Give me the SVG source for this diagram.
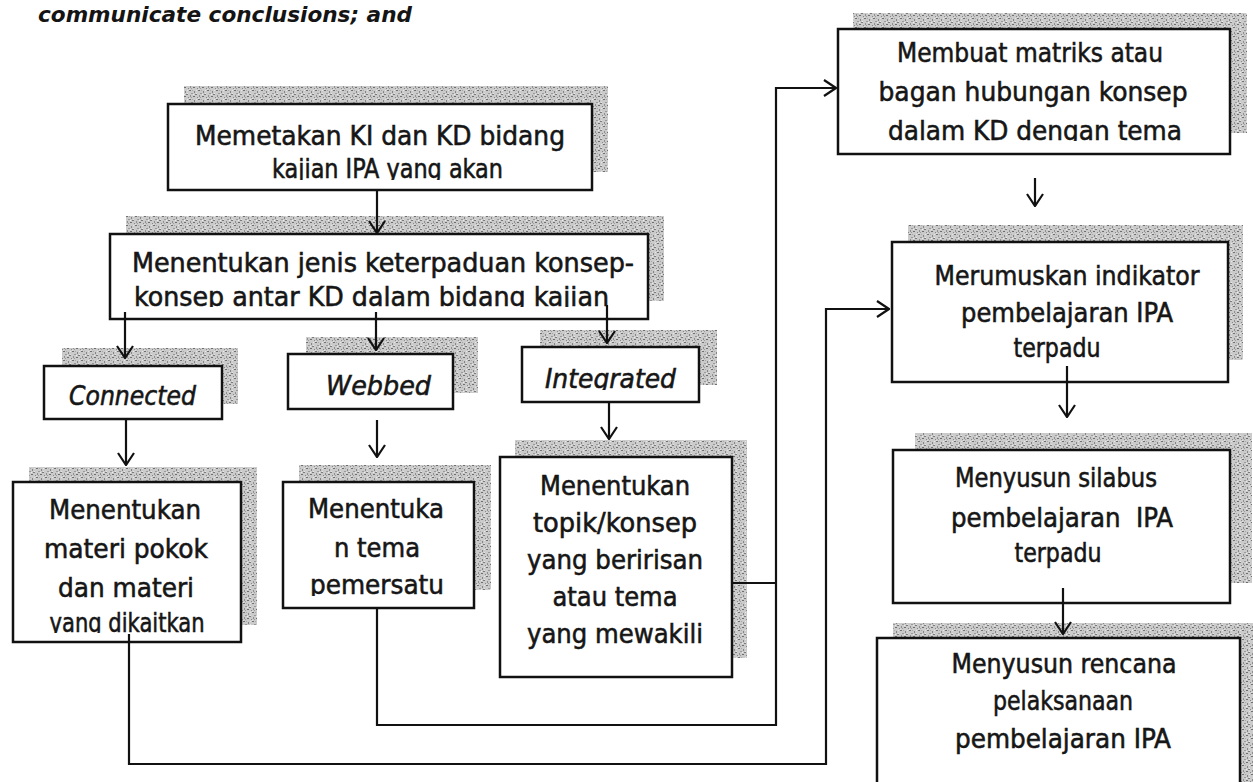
<svg xmlns="http://www.w3.org/2000/svg" width="1253" height="782" viewBox="0 0 1253 782">
<style>
.bx{fill:#fff;stroke:#111;stroke-width:2.5}
.sh{fill:url(#stip)}
.t{font-family:"DejaVu Sans Condensed","DejaVu Sans",sans-serif;font-size:27px;fill:#161616;stroke:#161616;stroke-width:0.55}
.it{font-style:italic}
.ln{fill:none;stroke:#111;stroke-width:2.2}
</style>
<defs>
<pattern id="stip" width="9" height="9" patternUnits="userSpaceOnUse">
<rect width="9" height="9" fill="#cbcbcb"/>
<rect x="0" y="0" width="2" height="1" fill="#707070"/>
<rect x="5" y="1" width="1" height="2" fill="#858585"/>
<rect x="2" y="3" width="2" height="1" fill="#999"/>
<rect x="7" y="3" width="1" height="1" fill="#e6e6e6"/>
<rect x="6" y="4" width="2" height="1" fill="#7a7a7a"/>
<rect x="1" y="5" width="1" height="2" fill="#8f8f8f"/>
<rect x="4" y="6" width="2" height="1" fill="#6e6e6e"/>
<rect x="3" y="0" width="1" height="1" fill="#aaa"/>
<rect x="8" y="7" width="1" height="1" fill="#888"/>
<rect x="0" y="8" width="1" height="1" fill="#e2e2e2"/>
<rect x="4" y="4" width="1" height="1" fill="#ececec"/>
<rect x="7" y="0" width="1" height="1" fill="#e8e8e8"/>
<rect x="2" y="7" width="1" height="1" fill="#9c9c9c"/>
</pattern>
<marker id="ah" viewBox="0 0 14 18" refX="13" refY="9" markerWidth="14" markerHeight="18" markerUnits="userSpaceOnUse" orient="auto">
<path d="M1,1 L13,9 L1,17" fill="none" stroke="#111" stroke-width="2.2"/>
</marker>
<clipPath id="c1"><rect x="168" y="104" width="424" height="76"/></clipPath>
<clipPath id="c2"><rect x="110" y="234" width="538" height="73"/></clipPath>
<clipPath id="c3"><rect x="522" y="347" width="177" height="43"/></clipPath>
<clipPath id="c4"><rect x="13" y="482" width="228" height="151"/></clipPath>
<clipPath id="c5"><rect x="283" y="482" width="191" height="114"/></clipPath>
<clipPath id="c6"><rect x="838" y="29" width="392" height="112"/></clipPath>
</defs>
<rect width="1253" height="782" fill="#fff"/>

<text x="38" y="22" font-family="'DejaVu Sans Condensed','DejaVu Sans',sans-serif" font-size="22" font-weight="bold" font-style="italic" fill="#141414" textLength="374" lengthAdjust="spacingAndGlyphs">communicate conclusions; and</text>

<g id="n1">
<rect class="sh" x="184" y="86" width="424" height="86"/>
<rect class="bx" x="168" y="104" width="424" height="86"/>
<g clip-path="url(#c1)">
<text class="t" x="195" y="145" textLength="370" lengthAdjust="spacingAndGlyphs">Memetakan KI dan KD bidang</text>
<text class="t" x="272" y="178" textLength="231" lengthAdjust="spacingAndGlyphs">kajian IPA yang akan</text>
</g>
</g>

<g id="n2">
<rect class="sh" x="126" y="216" width="538" height="85"/>
<rect class="bx" x="110" y="234" width="538" height="85"/>
<g clip-path="url(#c2)">
<text class="t" x="132" y="272" textLength="502" lengthAdjust="spacingAndGlyphs">Menentukan jenis keterpaduan konsep-</text>
<text class="t" x="134" y="306" textLength="475" lengthAdjust="spacingAndGlyphs">konsep antar KD dalam bidang kajian</text>
</g>
</g>

<g id="n3">
<rect class="sh" x="62" y="348" width="176" height="56"/>
<rect class="bx" x="44" y="366" width="178" height="53"/>
<text class="t it" x="69" y="405" textLength="127" lengthAdjust="spacingAndGlyphs">Connected</text>
</g>

<g id="n4">
<rect class="sh" x="306" y="337" width="172" height="56"/>
<rect class="bx" x="288" y="354" width="165" height="55"/>
<text class="t it" x="326" y="395" textLength="105" lengthAdjust="spacingAndGlyphs">Webbed</text>
</g>

<g id="n5">
<rect class="sh" x="540" y="330" width="177" height="55"/>
<rect class="bx" x="522" y="347" width="177" height="55"/>
<g clip-path="url(#c3)">
<text class="t it" x="545" y="388" textLength="131" lengthAdjust="spacingAndGlyphs">Integrated</text>
</g>
</g>

<g id="n6">
<rect class="sh" x="29" y="467" width="228" height="158"/>
<rect class="bx" x="13" y="482" width="228" height="160"/>
<g clip-path="url(#c4)">
<text class="t" x="125" y="519" text-anchor="middle" textLength="152" lengthAdjust="spacingAndGlyphs">Menentukan</text>
<text class="t" x="126" y="558" text-anchor="middle" textLength="164" lengthAdjust="spacingAndGlyphs">materi pokok</text>
<text class="t" x="126" y="597" text-anchor="middle" textLength="136" lengthAdjust="spacingAndGlyphs">dan materi</text>
<text class="t" x="127" y="632" text-anchor="middle" textLength="155" lengthAdjust="spacingAndGlyphs">yang dikaitkan</text>
</g>
</g>

<g id="n7">
<rect class="sh" x="299" y="465" width="192" height="125"/>
<rect class="bx" x="283" y="482" width="191" height="126"/>
<g clip-path="url(#c5)">
<text class="t" x="376" y="518" text-anchor="middle" textLength="136" lengthAdjust="spacingAndGlyphs">Menentuka</text>
<text class="t" x="377" y="557" text-anchor="middle" textLength="86" lengthAdjust="spacingAndGlyphs">n tema</text>
<text class="t" x="377" y="594" text-anchor="middle" textLength="134" lengthAdjust="spacingAndGlyphs">pemersatu</text>
</g>
</g>

<g id="n8">
<rect class="sh" x="515" y="440" width="232" height="218"/>
<rect class="bx" x="500" y="457" width="232" height="220"/>
<text class="t" x="615" y="495" text-anchor="middle" textLength="150" lengthAdjust="spacingAndGlyphs">Menentukan</text>
<text class="t" x="615" y="532" text-anchor="middle" textLength="164" lengthAdjust="spacingAndGlyphs">topik/konsep</text>
<text class="t" x="615" y="569" text-anchor="middle" textLength="176" lengthAdjust="spacingAndGlyphs">yang beririsan</text>
<text class="t" x="615" y="606" text-anchor="middle" textLength="125" lengthAdjust="spacingAndGlyphs">atau tema</text>
<text class="t" x="615" y="643" text-anchor="middle" textLength="176" lengthAdjust="spacingAndGlyphs">yang mewakili</text>
</g>

<g id="n9">
<rect class="sh" x="853" y="13" width="394" height="120"/>
<rect class="bx" x="838" y="29" width="392" height="125"/>
<g clip-path="url(#c6)">
<text class="t" x="1030" y="62" text-anchor="middle" textLength="266" lengthAdjust="spacingAndGlyphs">Membuat matriks atau</text>
<text class="t" x="1033" y="101" text-anchor="middle" textLength="309" lengthAdjust="spacingAndGlyphs">bagan hubungan konsep</text>
<text class="t" x="1035" y="140" text-anchor="middle" textLength="294" lengthAdjust="spacingAndGlyphs">dalam KD dengan tema</text>
</g>
</g>

<g id="n10">
<rect class="sh" x="908" y="225" width="335" height="135"/>
<rect class="bx" x="892" y="242" width="336" height="140"/>
<text class="t" x="1067" y="285" text-anchor="middle" textLength="265" lengthAdjust="spacingAndGlyphs">Merumuskan indikator</text>
<text class="t" x="1067" y="322" text-anchor="middle" textLength="212" lengthAdjust="spacingAndGlyphs">pembelajaran IPA</text>
<text class="t" x="1057" y="357" text-anchor="middle" textLength="87" lengthAdjust="spacingAndGlyphs">terpadu</text>
</g>

<g id="n11">
<rect class="sh" x="915" y="433" width="337" height="150"/>
<rect class="bx" x="893" y="450" width="337" height="153"/>
<text class="t" x="1056" y="487" text-anchor="middle" textLength="202" lengthAdjust="spacingAndGlyphs">Menyusun silabus</text>
<text class="t" x="1062" y="527" text-anchor="middle" textLength="222" lengthAdjust="spacingAndGlyphs" xml:space="preserve">pembelajaran  IPA</text>
<text class="t" x="1058" y="562" text-anchor="middle" textLength="87" lengthAdjust="spacingAndGlyphs">terpadu</text>
</g>

<g id="n12">
<rect class="sh" x="893" y="623" width="365" height="170"/>
<rect class="bx" x="877" y="638" width="363" height="160"/>
<text class="t" x="1064" y="673" text-anchor="middle" textLength="225" lengthAdjust="spacingAndGlyphs">Menyusun rencana</text>
<text class="t" x="1063" y="710" text-anchor="middle" textLength="140" lengthAdjust="spacingAndGlyphs">pelaksanaan</text>
<text class="t" x="1063" y="748" text-anchor="middle" textLength="216" lengthAdjust="spacingAndGlyphs">pembelajaran IPA</text>
</g>

<g id="connectors">
<line class="ln" x1="377" y1="190" x2="377" y2="233" marker-end="url(#ah)"/>
<line class="ln" x1="125" y1="312" x2="125" y2="358" marker-end="url(#ah)"/>
<line class="ln" x1="376" y1="312" x2="376" y2="350" marker-end="url(#ah)"/>
<line class="ln" x1="607" y1="305" x2="607" y2="343" marker-end="url(#ah)"/>
<line class="ln" x1="126" y1="419" x2="126" y2="465" marker-end="url(#ah)"/>
<line class="ln" x1="377" y1="420" x2="377" y2="457" marker-end="url(#ah)"/>
<line class="ln" x1="609" y1="402" x2="609" y2="439" marker-end="url(#ah)"/>
<path class="ln" d="M377,608 V725 H776 V88 H836" marker-end="url(#ah)"/>
<path class="ln" d="M732,583 H776"/>
<path class="ln" d="M129,634 V764 H826 V309 H889" marker-end="url(#ah)"/>
<line class="ln" x1="1035" y1="178" x2="1035" y2="206" marker-end="url(#ah)"/>
<line class="ln" x1="1067" y1="366" x2="1067" y2="417" marker-end="url(#ah)"/>
<line class="ln" x1="1063" y1="588" x2="1063" y2="634" marker-end="url(#ah)"/>
</g>
</svg>
